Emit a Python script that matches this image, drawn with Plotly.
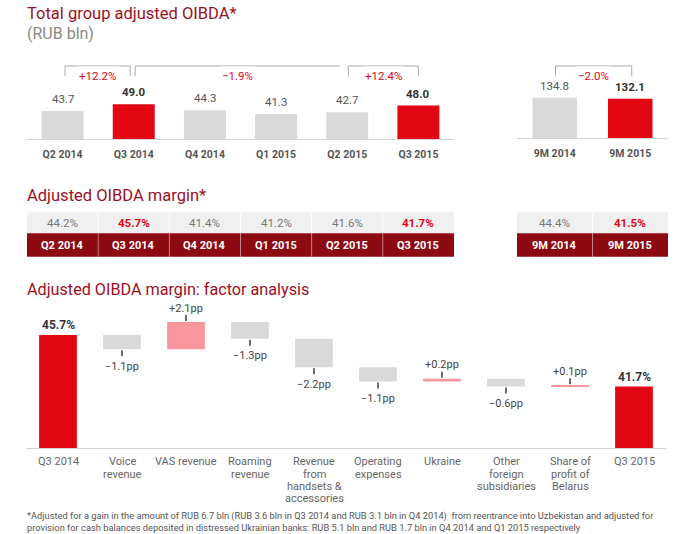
import plotly.graph_objects as go

W, H = 696, 534

# ---------------- data ----------------
quarters = ["Q2 2014", "Q3 2014", "Q4 2014", "Q1 2015", "Q2 2015", "Q3 2015"]
oibda_q = [43.7, 49.0, 44.3, 41.3, 42.7, 48.0]
highlight_q = [False, True, False, False, False, True]

periods_9m = ["9M 2014", "9M 2015"]
oibda_9m = [134.8, 132.1]
highlight_9m = [False, True]

growth_q = ["+12.2%", "\u22121.9%", "+12.4%"]
growth_9m = ["\u22122.0%"]

margin_q = [44.2, 45.7, 41.4, 41.2, 41.6, 41.7]
margin_9m = [44.4, 41.5]

factors = ["Q3 2014", "Voice<br>revenue", "VAS revenue", "Roaming<br>revenue",
           "Revenue<br>from<br>handsets &<br>accessories", "Operating<br>expenses",
           "Ukraine", "Other<br>foreign<br>subsidiaries", "Share of<br>profit of<br>Belarus",
           "Q3 2015"]
factor_values = [45.7, -1.1, 2.1, -1.3, -2.2, -1.1, 0.2, -0.6, 0.1, 41.7]
factor_measures = ["absolute"] + ["relative"] * 8 + ["absolute"]

title_top = "Total group adjusted OIBDA*"
subtitle_top = "(RUB bln)"
title_mid = "Adjusted OIBDA margin*"
title_bot = "Adjusted OIBDA margin: factor analysis"
footnote_lines = [
    "*Adjusted for a gain in the amount of RUB 6.7 bln (RUB 3.6 bln in Q3 2014 and RUB 3.1 bln in Q4 2014)  "
    "from reentrance into Uzbekistan and adjusted for",
    "provision for cash balances deposited in distressed Ukrainian banks: RUB 5.1 bln and RUB 1.7 bln "
    "in Q4 2014 and Q1 2015 respectively",
]

# ---------------- styles ----------------
FONT = "Roboto"
RED = "#e30613"
GRAY_BAR = "#d9d9d9"
PINK = "#f7979c"
DARK_RED = "#8e0a12"
TITLE_RED = "#9c0f1f"
TXT = "#555555"


def px_x(p):
    return p / W


def px_y(p):
    return 1 - p / H


fig = go.Figure()

fig.add_trace(go.Bar(x=quarters, y=oibda_q, xaxis="x", yaxis="y",
                     marker=dict(color=[RED if h else GRAY_BAR for h in highlight_q], line=dict(width=0)),
                     hoverinfo="skip"))
fig.add_trace(go.Bar(x=periods_9m, y=oibda_9m, xaxis="x2", yaxis="y2",
                     marker=dict(color=[RED if h else GRAY_BAR for h in highlight_9m], line=dict(width=0)),
                     hoverinfo="skip"))
fig.add_trace(go.Waterfall(x=factors, y=factor_values, measure=factor_measures,
                           xaxis="x3", yaxis="y3",
                           increasing=dict(marker=dict(color=PINK)),
                           decreasing=dict(marker=dict(color=GRAY_BAR)),
                           totals=dict(marker=dict(color=RED)),
                           connector=dict(visible=False), hoverinfo="skip"))

annotations = []
shapes = []

for cat, v, h in zip(quarters, oibda_q, highlight_q):
    annotations.append(dict(x=cat, y=v, xref="x", yref="y", text=f"{v:.1f}", showarrow=False,
                            yshift=12, font=dict(family=FONT, size=11.5, color="#333" if h else TXT,
                                                  weight=700 if h else 400)))
for cat, v, h in zip(periods_9m, oibda_9m, highlight_9m):
    annotations.append(dict(x=cat, y=v, xref="x2", yref="y2", text=f"{v:.1f}", showarrow=False,
                            yshift=12, font=dict(family=FONT, size=11.5, color="#333" if h else TXT,
                                                  weight=700 if h else 400)))

BR_LINE = dict(color="#aaaaaa", width=1)
yb_top, yb_bot = px_y(66), px_y(76)


def bracket(xref, x0, x1, label, left=True, right=True):
    shapes.append(dict(type="line", xref=xref, yref="paper", x0=x0, x1=x1, y0=yb_top, y1=yb_top, line=BR_LINE))
    if left:
        shapes.append(dict(type="line", xref=xref, yref="paper", x0=x0, x1=x0, y0=yb_top, y1=yb_bot, line=BR_LINE))
    if right:
        shapes.append(dict(type="line", xref=xref, yref="paper", x0=x1, x1=x1, y0=yb_top, y1=yb_bot, line=BR_LINE))
    annotations.append(dict(x=(x0 + x1) / 2, y=yb_top, xref=xref, yref="paper", text=label, showarrow=False,
                            bgcolor="white", borderpad=2,
                            font=dict(family=FONT, size=11.5, color=RED)))


bracket("x", 0.035, 0.95, growth_q[0])
bracket("x", 1.02, 3.90, growth_q[1], right=False)
bracket("x", 4.015, 5.0, growth_q[2])
bracket("x2", 0.01, 1.02, growth_9m[0])

r1_top, r1_bot, r2_bot = 211.7, 233.3, 256.7


def table(xref, cats, vals, highlight):
    n = len(cats)
    for i in range(n):
        shapes.append(dict(type="rect", xref=xref, yref="paper", x0=i - 0.5, x1=i + 0.5,
                           y0=px_y(r1_bot), y1=px_y(r1_top), fillcolor="#f0f0f0", line=dict(width=0), layer="below"))
        shapes.append(dict(type="rect", xref=xref, yref="paper", x0=i - 0.5, x1=i + 0.5,
                           y0=px_y(r2_bot), y1=px_y(r1_bot), fillcolor=DARK_RED, line=dict(width=0), layer="below"))
        if i > 0:
            shapes.append(dict(type="line", xref=xref, yref="paper", x0=i - 0.5, x1=i - 0.5,
                               y0=px_y(r2_bot), y1=px_y(r1_bot), line=dict(color="rgba(255,255,255,0.35)", width=1)))
            shapes.append(dict(type="line", xref=xref, yref="paper", x0=i - 0.5, x1=i - 0.5,
                               y0=px_y(r1_bot), y1=px_y(r1_top), line=dict(color="rgba(255,255,255,0.9)", width=1)))
        h = highlight[i]
        annotations.append(dict(x=cats[i], y=px_y((r1_top + r1_bot) / 2), xref=xref, yref="paper",
                                text=f"{vals[i]:.1f}%", showarrow=False,
                                font=dict(family=FONT, size=11.5, color=RED if h else "#777",
                                          weight=700 if h else 400)))
        annotations.append(dict(x=cats[i], y=px_y((r1_bot + r2_bot) / 2), xref=xref, yref="paper",
                                text=cats[i], showarrow=False,
                                font=dict(family=FONT, size=11, color="white", weight=700)))


table("x", quarters, margin_q, highlight_q)
table("x2", periods_9m, margin_9m, highlight_9m)

# waterfall value labels
cum = None
for i, (v, m) in enumerate(zip(factor_values, factor_measures)):
    if m == "absolute":
        cum = v
        annotations.append(dict(x=i, y=v, xref="x3", yref="y3", text=f"{v:.1f}%", showarrow=False,
                                yshift=10, font=dict(family=FONT, size=12, color="#333", weight=700)))
        continue
    end = cum + v
    cum = end
    if v < 0:
        shapes.append(dict(type="line", xref="x3", yref="y3", ysizemode="pixel", yanchor=end,
                           x0=i, x1=i, y0=-1, y1=-7, line=dict(color="#222", width=1.3)))
        annotations.append(dict(x=i, y=end, xref="x3", yref="y3", text=f"\u2212{abs(v):.1f}pp",
                                showarrow=False, yshift=-17, font=dict(family=FONT, size=11, color="#444")))
    else:
        shapes.append(dict(type="line", xref="x3", yref="y3", ysizemode="pixel", yanchor=end,
                           x0=i, x1=i, y0=1, y1=7, line=dict(color="#222", width=1.3)))
        annotations.append(dict(x=i, y=end, xref="x3", yref="y3", text=f"+{v:.1f}pp",
                                showarrow=False, yshift=14, font=dict(family=FONT, size=11, color="#444")))

# waterfall category labels, one line each, tighter line spacing than tick labels allow
for i, cat in enumerate(factors):
    for k, line in enumerate(cat.split("<br>")):
        annotations.append(dict(x=i, y=px_y(461.7 + 12.4 * k), xref="x3", yref="paper", text=line,
                                showarrow=False, yanchor="middle",
                                font=dict(family=FONT, size=11, color="#666")))

annotations += [
    dict(x=px_x(25), y=px_y(14), xref="paper", yref="paper", xanchor="left", yanchor="middle", showarrow=False,
         text=title_top, font=dict(family=FONT, size=16.5, color=TITLE_RED)),
    dict(x=px_x(25), y=px_y(33), xref="paper", yref="paper", xanchor="left", yanchor="middle", showarrow=False,
         text=subtitle_top, font=dict(family=FONT, size=16, color="#888")),
    dict(x=px_x(25), y=px_y(195), xref="paper", yref="paper", xanchor="left", yanchor="middle", showarrow=False,
         text=title_mid, font=dict(family=FONT, size=16.5, color=TITLE_RED)),
    dict(x=px_x(25), y=px_y(289), xref="paper", yref="paper", xanchor="left", yanchor="middle", showarrow=False,
         text=title_bot, font=dict(family=FONT, size=16.2, color=TITLE_RED)),
]
for k, line in enumerate(footnote_lines):
    annotations.append(dict(x=px_x(25), y=px_y(515.7 + 11.6 * k), xref="paper", yref="paper",
                            xanchor="left", yanchor="middle", showarrow=False, text=line,
                            font=dict(family=FONT, size=9.3, color="#555")))

AXLINE = dict(showline=True, linecolor="#d3d3d3", linewidth=1, showgrid=False, zeroline=False,
              ticks="outside", ticklen=5, tickcolor="rgba(0,0,0,0)", fixedrange=True)
YHID = dict(visible=False, showgrid=False, zeroline=False, fixedrange=True)

fig.update_layout(
    width=W, height=H, margin=dict(l=0, r=0, t=0, b=0),
    paper_bgcolor="white", plot_bgcolor="white", showlegend=False,
    bargap=0.41, waterfallgap=0.41,
    font=dict(family=FONT),
    xaxis=dict(domain=[px_x(27), px_x(454)], anchor="y", categoryorder="array", categoryarray=quarters,
               tickfont=dict(family=FONT, size=10.5, color=TXT, weight=700), **AXLINE),
    yaxis=dict(domain=[px_y(139), px_y(58)], anchor="x", range=[21.5, 21.5 + 81 / 1.264], **YHID),
    xaxis2=dict(domain=[px_x(517), px_x(668)], anchor="y2", categoryorder="array", categoryarray=periods_9m,
                tickfont=dict(family=FONT, size=10.5, color=TXT, weight=700), **AXLINE),
    yaxis2=dict(domain=[px_y(138), px_y(58)], anchor="x2", range=[34.05, 34.05 + 80 / 0.4], **YHID),
    xaxis3=dict(domain=[px_x(26), px_x(666)], anchor="y3", categoryorder="array", categoryarray=factors,
                showticklabels=False, **AXLINE),
    yaxis3=dict(domain=[px_y(448), px_y(300)], anchor="x3", range=[36.94, 36.94 + 148 / 12.9], **YHID),
    annotations=annotations,
    shapes=shapes,
)

fig.write_html("out.html", config={"responsive": False, "displayModeBar": False},
               post_script="document.body.style.margin='0';document.body.style.overflow='hidden';")
